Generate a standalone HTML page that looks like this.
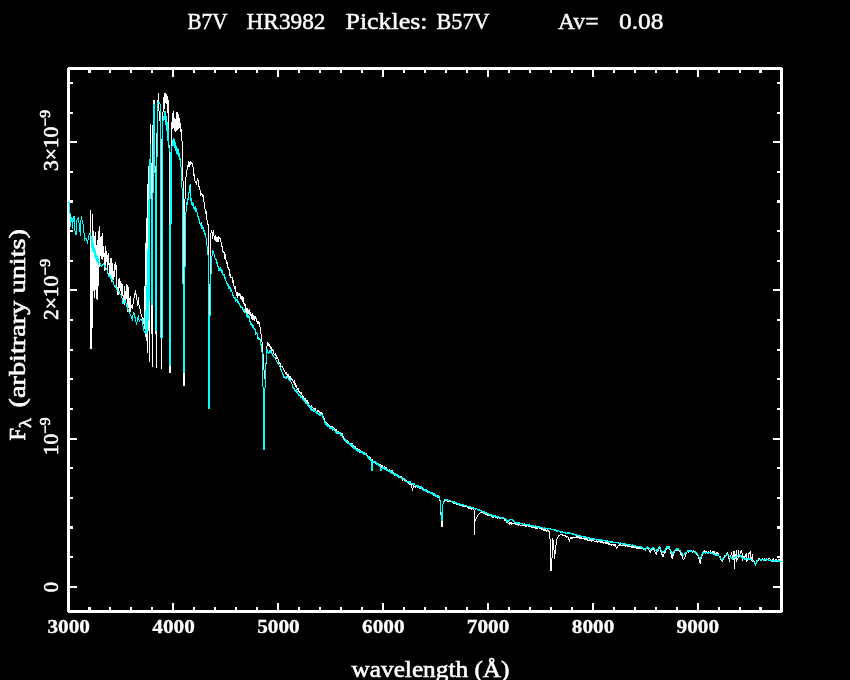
<!DOCTYPE html>
<html><head><meta charset="utf-8"><title>B7V HR3982 Pickles: B57V</title>
<style>
html,body{margin:0;padding:0;background:#000;}
body{width:850px;height:680px;overflow:hidden;font-family:"Liberation Serif",serif;}
svg{display:block;}
</style></head><body>
<svg width="850" height="680" viewBox="0 0 850 680">
<rect width="850" height="680" fill="#000"/>
<g shape-rendering="crispEdges">
<rect x="68.5" y="68.5" width="713" height="543" fill="none" stroke="#fff" stroke-width="3"/>
<g fill="#fff"><rect x="88" y="607" width="3" height="3"/><rect x="88" y="70" width="3" height="3"/><rect x="109" y="607" width="2" height="3"/><rect x="109" y="70" width="2" height="3"/><rect x="130" y="607" width="2" height="3"/><rect x="130" y="70" width="2" height="3"/><rect x="151" y="607" width="2" height="3"/><rect x="151" y="70" width="2" height="3"/><rect x="172" y="603" width="2" height="7"/><rect x="172" y="70" width="2" height="7"/><rect x="193" y="607" width="2" height="3"/><rect x="193" y="70" width="2" height="3"/><rect x="214" y="607" width="2" height="3"/><rect x="214" y="70" width="2" height="3"/><rect x="235" y="607" width="2" height="3"/><rect x="235" y="70" width="2" height="3"/><rect x="256" y="607" width="2" height="3"/><rect x="256" y="70" width="2" height="3"/><rect x="277" y="603" width="2" height="7"/><rect x="277" y="70" width="2" height="7"/><rect x="298" y="607" width="2" height="3"/><rect x="298" y="70" width="2" height="3"/><rect x="319" y="607" width="2" height="3"/><rect x="319" y="70" width="2" height="3"/><rect x="340" y="607" width="2" height="3"/><rect x="340" y="70" width="2" height="3"/><rect x="361" y="607" width="2" height="3"/><rect x="361" y="70" width="2" height="3"/><rect x="382" y="603" width="2" height="7"/><rect x="382" y="70" width="2" height="7"/><rect x="403" y="607" width="2" height="3"/><rect x="403" y="70" width="2" height="3"/><rect x="424" y="607" width="2" height="3"/><rect x="424" y="70" width="2" height="3"/><rect x="445" y="607" width="2" height="3"/><rect x="445" y="70" width="2" height="3"/><rect x="466" y="607" width="2" height="3"/><rect x="466" y="70" width="2" height="3"/><rect x="487" y="603" width="2" height="7"/><rect x="487" y="70" width="2" height="7"/><rect x="508" y="607" width="2" height="3"/><rect x="508" y="70" width="2" height="3"/><rect x="529" y="607" width="2" height="3"/><rect x="529" y="70" width="2" height="3"/><rect x="550" y="607" width="2" height="3"/><rect x="550" y="70" width="2" height="3"/><rect x="571" y="607" width="2" height="3"/><rect x="571" y="70" width="2" height="3"/><rect x="592" y="603" width="2" height="7"/><rect x="592" y="70" width="2" height="7"/><rect x="613" y="607" width="2" height="3"/><rect x="613" y="70" width="2" height="3"/><rect x="634" y="607" width="2" height="3"/><rect x="634" y="70" width="2" height="3"/><rect x="655" y="607" width="2" height="3"/><rect x="655" y="70" width="2" height="3"/><rect x="676" y="607" width="2" height="3"/><rect x="676" y="70" width="2" height="3"/><rect x="697" y="603" width="2" height="7"/><rect x="697" y="70" width="2" height="7"/><rect x="718" y="607" width="2" height="3"/><rect x="718" y="70" width="2" height="3"/><rect x="739" y="607" width="2" height="3"/><rect x="739" y="70" width="2" height="3"/><rect x="759" y="607" width="3" height="3"/><rect x="759" y="70" width="3" height="3"/><rect x="70" y="586" width="7" height="2"/><rect x="773" y="586" width="7" height="2"/><rect x="70" y="556" width="3" height="2"/><rect x="777" y="556" width="3" height="2"/><rect x="70" y="526" width="3" height="3"/><rect x="777" y="526" width="3" height="3"/><rect x="70" y="497" width="3" height="2"/><rect x="777" y="497" width="3" height="2"/><rect x="70" y="467" width="3" height="2"/><rect x="777" y="467" width="3" height="2"/><rect x="70" y="438" width="7" height="2"/><rect x="773" y="438" width="7" height="2"/><rect x="70" y="408" width="3" height="2"/><rect x="777" y="408" width="3" height="2"/><rect x="70" y="378" width="3" height="2"/><rect x="777" y="378" width="3" height="2"/><rect x="70" y="349" width="3" height="2"/><rect x="777" y="349" width="3" height="2"/><rect x="70" y="319" width="3" height="2"/><rect x="777" y="319" width="3" height="2"/><rect x="70" y="289" width="7" height="2"/><rect x="773" y="289" width="7" height="2"/><rect x="70" y="260" width="3" height="2"/><rect x="777" y="260" width="3" height="2"/><rect x="70" y="230" width="3" height="2"/><rect x="777" y="230" width="3" height="2"/><rect x="70" y="200" width="3" height="3"/><rect x="777" y="200" width="3" height="3"/><rect x="70" y="171" width="3" height="2"/><rect x="777" y="171" width="3" height="2"/><rect x="70" y="141" width="7" height="2"/><rect x="773" y="141" width="7" height="2"/><rect x="70" y="112" width="3" height="2"/><rect x="777" y="112" width="3" height="2"/><rect x="70" y="82" width="3" height="2"/><rect x="777" y="82" width="3" height="2"/></g>
<path fill="#000" d="M67 67h1v1h-1zM782 67h1v1h-1zM67 612h1v1h-1zM782 612h1v1h-1z"/>
<path fill="#fff" d="M90 210h1v139h-1zM91 240h1v109h-1zM92 214h1v114h-1zM93 231h1v60h-1zM94 236h1v62h-1zM95 232h1v58h-1zM96 245h1v54h-1zM97 240h1v60h-1zM98 231h1v55h-1zM99 226h1v41h-1zM100 237h1v19h-1zM101 236h1v23h-1zM102 233h1v27h-1zM103 246h1v11h-1zM104 253h1v18h-1zM105 246h1v24h-1zM106 251h1v11h-1zM107 255h1v19h-1zM108 253h1v12h-1zM109 263h1v14h-1zM110 258h1v21h-1zM111 258h1v24h-1zM112 263h1v18h-1zM113 271h1v9h-1zM114 264h1v13h-1zM115 262h1v8h-1zM116 265h1v22h-1zM117 287h1v8h-1zM118 279h1v16h-1zM119 278h1v10h-1zM120 281h1v10h-1zM121 283h1v15h-1zM122 284h1v12h-1zM123 295h1v7h-1zM124 286h1v19h-1zM125 291h1v12h-1zM126 284h1v15h-1zM127 285h1v27h-1zM128 287h1v21h-1zM129 298h1v14h-1zM130 296h1v16h-1zM131 305h1v3h-1zM132 304h1v5h-1zM133 298h1v6h-1zM134 293h1v5h-1zM135 290h1v5h-1zM136 294h1v6h-1zM137 300h1v6h-1zM138 297h1v8h-1zM139 305h1v4h-1zM140 309h1v5h-1zM141 314h1v3h-1zM142 317h1v2h-1zM143 318h1v6h-1zM144 286h1v43h-1zM145 243h1v94h-1zM146 218h1v123h-1zM147 184h1v169h-1zM148 166h1v165h-1zM149 162h1v200h-1zM150 124h1v39h-1zM151 163h1v171h-1zM152 125h1v242h-1zM153 100h1v25h-1zM154 100h1v66h-1zM155 166h1v168h-1zM156 133h1v235h-1zM157 100h1v33h-1zM158 93h1v18h-1zM159 111h1v10h-1zM160 119h1v216h-1zM161 139h1v230h-1zM162 112h1v27h-1zM163 97h1v15h-1zM164 93h1v16h-1zM165 93h1v10h-1zM166 94h1v10h-1zM167 96h1v17h-1zM168 100h1v45h-1zM169 145h1v228h-1zM170 166h1v207h-1zM171 122h1v44h-1zM172 113h1v16h-1zM173 111h1v17h-1zM174 118h1v13h-1zM175 119h1v13h-1zM176 112h1v19h-1zM177 112h1v18h-1zM178 114h1v15h-1zM179 118h1v10h-1zM180 123h1v9h-1zM181 129h1v12h-1zM182 141h1v40h-1zM183 181h1v205h-1zM184 199h1v187h-1zM185 177h1v22h-1zM186 170h1v7h-1zM187 165h1v5h-1zM188 161h1v6h-1zM189 162h1v5h-1zM190 161h1v4h-1zM191 162h1v2h-1zM192 163h1v4h-1zM193 167h1v9h-1zM194 174h1v7h-1zM195 181h1v2h-1zM196 181h1v4h-1zM197 178h1v3h-1zM198 180h1v7h-1zM199 186h1v4h-1zM200 190h1v6h-1zM201 193h1v2h-1zM202 194h1v3h-1zM203 195h1v7h-1zM204 202h1v7h-1zM205 209h1v5h-1zM206 211h1v9h-1zM207 220h1v5h-1zM208 224h1v73h-1zM209 284h1v31h-1zM210 233h1v51h-1zM211 230h1v3h-1zM212 232h1v7h-1zM213 230h1v6h-1zM214 236h1v4h-1zM215 235h1v6h-1zM216 237h1v5h-1zM217 237h1v5h-1zM218 236h1v6h-1zM219 237h1v2h-1zM220 238h1v4h-1zM221 242h1v5h-1zM222 246h1v6h-1zM223 251h1v2h-1zM224 252h1v7h-1zM225 254h1v6h-1zM226 260h1v4h-1zM227 262h1v6h-1zM228 267h1v3h-1zM229 269h1v7h-1zM230 274h1v4h-1zM231 277h1v1h-1zM232 277h1v6h-1zM233 280h1v6h-1zM234 286h1v3h-1zM235 286h1v6h-1zM236 292h1v4h-1zM237 292h1v6h-1zM238 293h1v3h-1zM239 293h1v3h-1zM240 294h1v5h-1zM241 296h1v4h-1zM242 296h1v6h-1zM243 297h1v7h-1zM244 303h1v3h-1zM245 304h1v8h-1zM246 308h1v5h-1zM247 308h1v6h-1zM248 310h1v4h-1zM249 309h1v6h-1zM250 312h1v4h-1zM251 314h1v5h-1zM252 313h1v7h-1zM253 315h1v5h-1zM254 316h1v5h-1zM255 316h1v3h-1zM256 318h1v4h-1zM257 321h1v3h-1zM258 321h1v3h-1zM259 322h1v5h-1zM260 327h1v7h-1zM261 334h1v8h-1zM262 342h1v12h-1zM263 354h1v16h-1zM264 370h1v9h-1zM265 364h1v15h-1zM266 346h1v18h-1zM267 342h1v4h-1zM268 343h1v3h-1zM269 344h1v3h-1zM270 346h1v3h-1zM271 347h1v4h-1zM272 349h1v2h-1zM273 350h1v4h-1zM274 354h1v1h-1zM275 353h1v3h-1zM276 355h1v4h-1zM277 357h1v2h-1zM278 359h1v4h-1zM279 362h1v2h-1zM280 363h1v4h-1zM281 366h1v1h-1zM282 366h1v2h-1zM283 368h1v2h-1zM284 370h1v2h-1zM285 372h1v2h-1zM286 372h1v3h-1zM287 374h1v3h-1zM288 374h1v4h-1zM289 376h1v3h-1zM290 376h1v3h-1zM291 378h1v2h-1zM292 379h1v2h-1zM293 381h1v2h-1zM294 380h1v5h-1zM295 383h1v4h-1zM296 385h1v3h-1zM297 388h1v2h-1zM298 388h1v4h-1zM299 391h1v2h-1zM300 392h1v2h-1zM301 392h1v3h-1zM302 395h1v2h-1zM303 396h1v4h-1zM304 398h1v3h-1zM305 398h1v4h-1zM306 400h1v3h-1zM307 400h1v4h-1zM308 402h1v3h-1zM309 405h1v2h-1zM310 406h1v2h-1zM311 405h1v4h-1zM312 407h1v1h-1zM313 408h1v1h-1zM314 408h1v1h-1zM315 408h1v3h-1zM316 411h1v1h-1zM317 410h1v2h-1zM318 410h1v2h-1zM319 411h1v3h-1zM320 412h1v2h-1zM321 412h1v2h-1zM322 413h1v3h-1zM323 416h1v4h-1zM324 418h1v4h-1zM325 422h1v2h-1zM326 422h1v3h-1zM327 423h1v3h-1zM328 424h1v2h-1zM329 425h1v2h-1zM330 426h1v2h-1zM331 426h1v3h-1zM332 426h1v2h-1zM333 427h1v3h-1zM334 428h1v3h-1zM335 429h1v3h-1zM336 429h1v3h-1zM337 431h1v2h-1zM338 431h1v3h-1zM339 432h1v2h-1zM340 432h1v2h-1zM341 433h1v3h-1zM342 433h1v4h-1zM343 436h1v4h-1zM344 438h1v3h-1zM345 439h1v2h-1zM346 440h1v3h-1zM347 440h1v2h-1zM348 441h1v3h-1zM349 443h1v2h-1zM350 443h1v2h-1zM351 443h1v4h-1zM352 443h1v4h-1zM353 445h1v3h-1zM354 446h1v2h-1zM355 446h1v3h-1zM356 448h1v2h-1zM357 448h1v4h-1zM358 449h1v3h-1zM359 449h1v4h-1zM360 450h1v2h-1zM361 451h1v2h-1zM362 451h1v2h-1zM363 452h1v3h-1zM364 452h1v3h-1zM365 453h1v2h-1zM366 453h1v3h-1zM367 455h1v2h-1zM368 456h1v3h-1zM369 457h1v3h-1zM370 457h1v3h-1zM371 459h1v2h-1zM372 459h1v2h-1zM373 461h1v1h-1zM374 462h1v1h-1zM375 461h1v3h-1zM376 462h1v3h-1zM377 464h1v1h-1zM378 463h1v3h-1zM379 464h1v3h-1zM380 464h1v2h-1zM381 465h1v3h-1zM382 465h1v3h-1zM383 467h1v2h-1zM384 466h1v3h-1zM385 467h1v3h-1zM386 467h1v4h-1zM387 469h1v2h-1zM388 470h1v1h-1zM389 469h1v2h-1zM390 470h1v3h-1zM391 470h1v2h-1zM392 470h1v4h-1zM393 472h1v2h-1zM394 473h1v3h-1zM395 473h1v2h-1zM396 474h1v2h-1zM397 475h1v2h-1zM398 476h1v2h-1zM399 476h1v2h-1zM400 476h1v2h-1zM401 476h1v3h-1zM402 477h1v4h-1zM403 478h1v2h-1zM404 478h1v3h-1zM405 480h1v2h-1zM406 480h1v2h-1zM407 482h1v1h-1zM408 482h1v2h-1zM409 481h1v4h-1zM410 481h1v4h-1zM411 484h1v4h-1zM412 488h1v3h-1zM413 485h1v3h-1zM414 486h1v1h-1zM415 485h1v3h-1zM416 485h1v2h-1zM417 486h1v2h-1zM418 486h1v2h-1zM419 487h1v2h-1zM420 488h1v1h-1zM421 487h1v2h-1zM422 488h1v2h-1zM423 488h1v3h-1zM424 489h1v2h-1zM425 489h1v3h-1zM426 490h1v2h-1zM427 490h1v3h-1zM428 491h1v2h-1zM429 491h1v2h-1zM430 492h1v1h-1zM431 492h1v2h-1zM432 493h1v2h-1zM433 495h1v1h-1zM434 494h1v2h-1zM435 495h1v2h-1zM436 495h1v2h-1zM437 495h1v3h-1zM438 496h1v1h-1zM439 497h1v4h-1zM440 501h1v14h-1zM441 515h1v12h-1zM442 504h1v23h-1zM443 502h1v2h-1zM444 500h1v2h-1zM445 499h1v2h-1zM446 500h1v1h-1zM447 499h1v3h-1zM448 500h1v2h-1zM449 500h1v2h-1zM450 500h1v2h-1zM451 501h1v1h-1zM452 501h1v2h-1zM453 501h1v3h-1zM454 502h1v2h-1zM455 502h1v2h-1zM456 502h1v3h-1zM457 504h1v1h-1zM458 503h1v2h-1zM459 504h1v2h-1zM460 504h1v2h-1zM461 504h1v2h-1zM462 504h1v3h-1zM463 505h1v2h-1zM464 505h1v2h-1zM465 506h1v1h-1zM466 505h1v2h-1zM467 506h1v2h-1zM468 506h1v3h-1zM469 506h1v3h-1zM470 507h1v2h-1zM471 507h1v3h-1zM472 507h1v2h-1zM473 508h1v2h-1zM474 510h1v25h-1zM475 519h1v2h-1zM476 517h1v2h-1zM477 515h1v2h-1zM478 514h1v1h-1zM479 513h1v1h-1zM480 512h1v1h-1zM481 512h1v1h-1zM482 512h1v1h-1zM483 512h1v2h-1zM484 513h1v1h-1zM485 512h1v3h-1zM486 513h1v2h-1zM487 514h1v2h-1zM488 514h1v2h-1zM489 514h1v2h-1zM490 515h1v1h-1zM491 515h1v2h-1zM492 515h1v3h-1zM493 515h1v3h-1zM494 516h1v1h-1zM495 517h1v1h-1zM496 516h1v2h-1zM497 516h1v3h-1zM498 516h1v1h-1zM499 517h1v2h-1zM500 517h1v2h-1zM501 517h1v2h-1zM502 517h1v2h-1zM503 517h1v2h-1zM504 519h1v2h-1zM505 520h1v1h-1zM506 521h1v2h-1zM507 522h1v1h-1zM508 523h1v1h-1zM509 522h1v3h-1zM510 522h1v2h-1zM511 522h1v3h-1zM512 523h1v1h-1zM513 523h1v1h-1zM514 523h1v1h-1zM515 523h1v2h-1zM516 523h1v2h-1zM517 524h1v1h-1zM518 524h1v2h-1zM519 524h1v1h-1zM520 525h1v1h-1zM521 525h1v1h-1zM522 524h1v2h-1zM523 525h1v1h-1zM524 525h1v1h-1zM525 525h1v2h-1zM526 524h1v3h-1zM527 525h1v1h-1zM528 525h1v2h-1zM529 525h1v2h-1zM530 525h1v2h-1zM531 525h1v3h-1zM532 526h1v2h-1zM533 526h1v2h-1zM534 527h1v1h-1zM535 526h1v3h-1zM536 527h1v2h-1zM537 527h1v2h-1zM538 527h1v1h-1zM539 527h1v2h-1zM540 528h1v1h-1zM541 528h1v2h-1zM542 528h1v2h-1zM543 528h1v3h-1zM544 529h1v2h-1zM545 529h1v2h-1zM546 530h1v2h-1zM547 530h1v1h-1zM548 530h1v2h-1zM549 531h1v8h-1zM550 539h1v32h-1zM551 558h1v13h-1zM552 538h1v20h-1zM553 540h1v10h-1zM554 550h1v9h-1zM555 545h1v9h-1zM556 539h1v6h-1zM557 537h1v2h-1zM558 535h1v2h-1zM559 535h1v1h-1zM560 534h1v1h-1zM561 534h1v1h-1zM562 534h1v2h-1zM563 535h1v1h-1zM564 535h1v1h-1zM565 535h1v2h-1zM566 536h1v2h-1zM567 536h1v1h-1zM568 537h1v3h-1zM569 539h1v3h-1zM570 537h1v2h-1zM571 537h1v2h-1zM572 537h1v2h-1zM573 537h1v1h-1zM574 537h1v1h-1zM575 537h1v1h-1zM576 536h1v2h-1zM577 536h1v2h-1zM578 536h1v2h-1zM579 537h1v2h-1zM580 537h1v2h-1zM581 537h1v2h-1zM582 538h1v1h-1zM583 538h1v1h-1zM584 538h1v2h-1zM585 538h1v2h-1zM586 538h1v2h-1zM587 539h1v2h-1zM588 540h1v1h-1zM589 539h1v2h-1zM590 539h1v2h-1zM591 540h1v2h-1zM592 539h1v2h-1zM593 540h1v1h-1zM594 541h1v1h-1zM595 541h1v1h-1zM596 540h1v2h-1zM597 541h1v2h-1zM598 541h1v1h-1zM599 541h1v1h-1zM600 541h1v2h-1zM601 541h1v2h-1zM602 541h1v2h-1zM603 542h1v2h-1zM604 542h1v1h-1zM605 542h1v2h-1zM606 542h1v2h-1zM607 542h1v2h-1zM608 543h1v2h-1zM609 543h1v2h-1zM610 544h1v1h-1zM611 544h1v2h-1zM612 544h1v1h-1zM613 544h1v2h-1zM614 544h1v2h-1zM615 544h1v3h-1zM616 547h1v2h-1zM617 546h1v2h-1zM618 545h1v1h-1zM619 544h1v2h-1zM620 544h1v2h-1zM621 545h1v1h-1zM622 545h1v1h-1zM623 545h1v1h-1zM624 545h1v1h-1zM625 545h1v2h-1zM626 545h1v1h-1zM627 545h1v2h-1zM628 545h1v2h-1zM629 546h1v1h-1zM630 546h1v1h-1zM631 546h1v2h-1zM632 546h1v2h-1zM633 546h1v2h-1zM634 546h1v2h-1zM635 547h1v1h-1zM636 547h1v2h-1zM637 547h1v2h-1zM638 547h1v2h-1zM639 547h1v2h-1zM640 548h1v1h-1zM641 548h1v1h-1zM642 548h1v1h-1zM643 548h1v2h-1zM644 548h1v2h-1zM645 549h1v2h-1zM646 547h1v2h-1zM647 546h1v3h-1zM648 547h1v3h-1zM649 550h1v2h-1zM650 551h1v2h-1zM651 549h1v2h-1zM652 547h1v3h-1zM653 548h1v2h-1zM654 550h1v2h-1zM655 552h1v2h-1zM656 552h1v3h-1zM657 550h1v2h-1zM658 548h1v3h-1zM659 547h1v2h-1zM660 549h1v3h-1zM661 551h1v4h-1zM662 554h1v3h-1zM663 554h1v3h-1zM664 552h1v2h-1zM665 550h1v3h-1zM666 547h1v3h-1zM667 547h1v2h-1zM668 547h1v2h-1zM669 547h1v3h-1zM670 549h1v5h-1zM671 554h1v4h-1zM672 555h1v4h-1zM673 553h1v3h-1zM674 550h1v3h-1zM675 549h1v2h-1zM676 549h1v2h-1zM677 549h1v2h-1zM678 549h1v2h-1zM679 550h1v2h-1zM680 552h1v3h-1zM681 554h1v2h-1zM682 556h1v3h-1zM683 559h1v1h-1zM684 557h1v2h-1zM685 554h1v3h-1zM686 552h1v2h-1zM687 551h1v1h-1zM688 551h1v2h-1zM689 551h1v1h-1zM690 550h1v1h-1zM691 551h1v1h-1zM692 551h1v2h-1zM693 550h1v2h-1zM694 551h1v2h-1zM695 551h1v3h-1zM696 553h1v2h-1zM697 553h1v3h-1zM698 556h1v3h-1zM699 559h1v4h-1zM700 559h1v5h-1zM701 556h1v3h-1zM702 552h1v4h-1zM703 551h1v3h-1zM704 550h1v3h-1zM705 551h1v1h-1zM706 551h1v1h-1zM707 552h1v1h-1zM708 551h1v2h-1zM709 552h1v1h-1zM710 550h1v2h-1zM711 552h1v1h-1zM712 551h1v2h-1zM713 551h1v2h-1zM714 551h1v3h-1zM715 553h1v1h-1zM716 552h1v3h-1zM717 552h1v2h-1zM718 553h1v3h-1zM719 556h1v1h-1zM720 556h1v4h-1zM721 560h1v1h-1zM722 559h1v3h-1zM723 558h1v2h-1zM724 555h1v3h-1zM725 555h1v1h-1zM726 553h1v3h-1zM727 552h1v2h-1zM728 554h1v5h-1zM729 558h1v4h-1zM730 555h1v3h-1zM731 552h1v3h-1zM732 555h1v5h-1zM733 551h1v9h-1zM734 551h1v18h-1zM735 554h1v5h-1zM736 550h1v12h-1zM737 558h1v2h-1zM738 550h1v8h-1zM739 554h1v3h-1zM740 551h1v3h-1zM741 550h1v3h-1zM742 553h1v8h-1zM743 556h1v2h-1zM744 556h1v3h-1zM745 554h1v3h-1zM746 553h1v9h-1zM747 559h1v2h-1zM748 553h1v6h-1zM749 552h1v2h-1zM750 551h1v9h-1zM751 557h1v4h-1zM752 554h1v8h-1zM753 560h1v2h-1zM754 561h1v3h-1zM755 564h1v2h-1zM756 560h1v4h-1zM757 560h1v1h-1zM758 558h1v3h-1zM759 558h1v1h-1zM760 559h1v1h-1zM761 559h1v2h-1zM762 558h1v2h-1zM763 559h1v2h-1zM764 558h1v3h-1zM765 559h1v2h-1zM766 558h1v3h-1zM767 559h1v1h-1zM768 558h1v3h-1zM769 558h1v1h-1zM770 559h1v2h-1zM771 561h1v1h-1zM772 559h1v3h-1zM773 558h1v2h-1zM774 560h1v1h-1zM775 559h1v1h-1zM776 559h1v3h-1zM777 560h1v1h-1zM778 559h1v3h-1zM779 559h1v2h-1zM780 559h1v3h-1z"/>
<path fill="#0ff" d="M68 202h1v1h-1zM69 202h1v12h-1zM70 213h1v14h-1zM71 217h1v5h-1zM72 218h1v11h-1zM73 216h1v6h-1zM74 216h1v15h-1zM75 231h1v4h-1zM76 220h1v15h-1zM77 218h1v2h-1zM78 217h1v6h-1zM79 223h1v9h-1zM80 220h1v16h-1zM81 216h1v4h-1zM82 220h1v4h-1zM83 224h1v9h-1zM84 233h1v8h-1zM85 238h1v1h-1zM86 238h1v3h-1zM87 240h1v4h-1zM88 235h1v5h-1zM89 233h1v2h-1zM90 232h1v4h-1zM91 236h1v12h-1zM92 237h1v14h-1zM93 243h1v10h-1zM94 247h1v10h-1zM95 250h1v9h-1zM96 254h1v8h-1zM97 256h1v7h-1zM98 258h1v7h-1zM99 262h1v1h-1zM100 263h1v3h-1zM101 265h1v2h-1zM102 264h1v2h-1zM103 263h1v2h-1zM104 265h1v2h-1zM105 265h1v3h-1zM106 268h1v2h-1zM107 270h1v4h-1zM108 273h1v4h-1zM109 275h1v2h-1zM110 275h1v4h-1zM111 277h1v3h-1zM112 279h1v3h-1zM113 281h1v4h-1zM114 285h1v2h-1zM115 285h1v3h-1zM116 287h1v3h-1zM117 289h1v2h-1zM118 291h1v1h-1zM119 291h1v3h-1zM120 294h1v1h-1zM121 295h1v3h-1zM122 298h1v6h-1zM123 302h1v2h-1zM124 300h1v3h-1zM125 300h1v3h-1zM126 303h1v4h-1zM127 305h1v5h-1zM128 309h1v3h-1zM129 312h1v2h-1zM130 314h1v2h-1zM131 316h1v3h-1zM132 315h1v6h-1zM133 312h1v3h-1zM134 313h1v5h-1zM135 317h1v5h-1zM136 322h1v3h-1zM137 317h1v5h-1zM138 315h1v5h-1zM139 320h1v2h-1zM140 319h1v1h-1zM141 319h1v2h-1zM142 319h1v7h-1zM143 326h1v5h-1zM144 331h1v2h-1zM145 310h1v24h-1zM146 285h1v49h-1zM147 250h1v81h-1zM148 200h1v121h-1zM149 159h1v142h-1zM150 143h1v56h-1zM151 199h1v106h-1zM152 193h1v112h-1zM153 104h1v89h-1zM154 104h1v69h-1zM155 172h1v159h-1zM156 157h1v174h-1zM157 102h1v55h-1zM158 102h1v1h-1zM159 102h1v2h-1zM160 104h1v234h-1zM161 337h1v1h-1zM162 120h1v218h-1zM163 116h1v5h-1zM164 111h1v9h-1zM165 111h1v14h-1zM166 116h1v15h-1zM167 122h1v19h-1zM168 129h1v19h-1zM169 148h1v4h-1zM169 225h1v141h-1zM170 152h1v214h-1zM171 146h1v78h-1zM172 140h1v6h-1zM173 138h1v8h-1zM174 139h1v9h-1zM175 142h1v9h-1zM176 146h1v8h-1zM177 148h1v7h-1zM178 149h1v8h-1zM179 153h1v7h-1zM180 158h1v9h-1zM181 167h1v21h-1zM182 188h1v96h-1zM183 284h1v89h-1zM184 266h1v107h-1zM185 212h1v55h-1zM186 202h1v10h-1zM187 198h1v7h-1zM188 192h1v8h-1zM189 185h1v8h-1zM190 184h1v17h-1zM191 198h1v7h-1zM192 202h1v4h-1zM193 203h1v6h-1zM194 207h1v3h-1zM195 206h1v6h-1zM196 208h1v4h-1zM197 212h1v5h-1zM198 216h1v4h-1zM199 219h1v5h-1zM200 223h1v3h-1zM201 222h1v7h-1zM202 225h1v4h-1zM203 227h1v5h-1zM204 230h1v5h-1zM205 233h1v5h-1zM206 238h1v8h-1zM207 246h1v9h-1zM208 255h1v154h-1zM209 315h1v94h-1zM210 274h1v42h-1zM211 256h1v18h-1zM212 250h1v6h-1zM213 251h1v3h-1zM214 254h1v4h-1zM215 258h1v2h-1zM216 259h1v5h-1zM217 262h1v5h-1zM218 266h1v5h-1zM219 268h1v3h-1zM220 267h1v4h-1zM221 269h1v4h-1zM222 270h1v5h-1zM223 274h1v2h-1zM224 274h1v5h-1zM225 277h1v4h-1zM226 281h1v3h-1zM227 283h1v3h-1zM228 284h1v5h-1zM229 286h1v3h-1zM230 287h1v5h-1zM231 289h1v3h-1zM232 292h1v4h-1zM233 295h1v3h-1zM234 297h1v2h-1zM235 297h1v5h-1zM236 299h1v2h-1zM237 299h1v4h-1zM238 301h1v3h-1zM239 303h1v3h-1zM240 305h1v3h-1zM241 306h1v2h-1zM242 307h1v3h-1zM243 309h1v3h-1zM244 309h1v4h-1zM245 312h1v1h-1zM246 313h1v4h-1zM247 314h1v4h-1zM248 315h1v3h-1zM249 316h1v6h-1zM250 321h1v4h-1zM251 323h1v3h-1zM252 324h1v4h-1zM253 325h1v4h-1zM254 328h1v2h-1zM255 329h1v6h-1zM256 332h1v2h-1zM257 333h1v6h-1zM258 337h1v3h-1zM259 338h1v2h-1zM260 339h1v6h-1zM261 344h1v8h-1zM262 352h1v35h-1zM263 387h1v63h-1zM264 388h1v62h-1zM265 363h1v25h-1zM266 349h1v14h-1zM267 349h1v4h-1zM268 352h1v2h-1zM269 350h1v3h-1zM270 350h1v3h-1zM271 351h1v3h-1zM272 353h1v3h-1zM273 355h1v2h-1zM274 357h1v1h-1zM275 357h1v3h-1zM276 360h1v2h-1zM277 362h1v2h-1zM278 362h1v3h-1zM279 365h1v2h-1zM280 367h1v3h-1zM281 369h1v3h-1zM282 372h1v3h-1zM283 374h1v4h-1zM284 376h1v2h-1zM285 377h1v2h-1zM286 376h1v3h-1zM287 377h1v1h-1zM288 377h1v3h-1zM289 379h1v2h-1zM290 379h1v3h-1zM291 382h1v2h-1zM292 384h1v4h-1zM293 387h1v2h-1zM294 388h1v3h-1zM295 390h1v2h-1zM296 389h1v4h-1zM297 391h1v3h-1zM298 393h1v3h-1zM299 394h1v2h-1zM300 395h1v3h-1zM301 396h1v2h-1zM302 397h1v3h-1zM303 398h1v3h-1zM304 399h1v3h-1zM305 401h1v3h-1zM306 402h1v2h-1zM307 403h1v3h-1zM308 404h1v3h-1zM309 406h1v2h-1zM310 407h1v3h-1zM311 407h1v4h-1zM312 409h1v2h-1zM313 409h1v3h-1zM314 409h1v3h-1zM315 412h1v1h-1zM316 411h1v3h-1zM317 412h1v2h-1zM318 413h1v2h-1zM319 413h1v3h-1zM320 414h1v2h-1zM321 414h1v1h-1zM322 414h1v4h-1zM323 417h1v3h-1zM324 420h1v3h-1zM325 421h1v4h-1zM326 423h1v3h-1zM327 424h1v3h-1zM328 425h1v2h-1zM329 426h1v3h-1zM330 427h1v2h-1zM331 427h1v2h-1zM332 427h1v4h-1zM333 428h1v2h-1zM334 429h1v2h-1zM335 431h1v2h-1zM336 431h1v3h-1zM337 431h1v3h-1zM338 432h1v1h-1zM339 432h1v2h-1zM340 432h1v4h-1zM341 434h1v2h-1zM342 434h1v4h-1zM343 438h1v2h-1zM344 439h1v2h-1zM345 440h1v2h-1zM346 440h1v2h-1zM347 441h1v3h-1zM348 442h1v2h-1zM349 443h1v2h-1zM350 443h1v3h-1zM351 444h1v2h-1zM352 444h1v4h-1zM353 446h1v3h-1zM354 447h1v2h-1zM355 448h1v2h-1zM356 449h1v2h-1zM357 449h1v3h-1zM358 450h1v2h-1zM359 450h1v2h-1zM360 451h1v2h-1zM361 451h1v2h-1zM362 451h1v3h-1zM363 452h1v3h-1zM364 453h1v2h-1zM365 453h1v2h-1zM366 454h1v2h-1zM367 456h1v2h-1zM368 456h1v3h-1zM369 456h1v3h-1zM370 459h1v2h-1zM371 459h1v12h-1zM372 461h1v10h-1zM373 461h1v2h-1zM374 461h1v2h-1zM375 461h1v2h-1zM376 462h1v3h-1zM377 463h1v2h-1zM378 463h1v3h-1zM379 465h1v2h-1zM380 465h1v6h-1zM381 469h1v2h-1zM382 467h1v2h-1zM383 467h1v2h-1zM384 467h1v3h-1zM385 469h1v1h-1zM386 468h1v3h-1zM387 469h1v2h-1zM388 470h1v2h-1zM389 470h1v2h-1zM390 470h1v2h-1zM391 471h1v3h-1zM392 471h1v3h-1zM393 473h1v2h-1zM394 473h1v2h-1zM395 473h1v3h-1zM396 474h1v2h-1zM397 474h1v3h-1zM398 475h1v3h-1zM399 476h1v2h-1zM400 477h1v1h-1zM401 477h1v2h-1zM402 477h1v2h-1zM403 478h1v2h-1zM404 478h1v2h-1zM405 479h1v3h-1zM406 481h1v1h-1zM407 481h1v1h-1zM408 481h1v1h-1zM409 481h1v3h-1zM410 481h1v3h-1zM411 483h1v1h-1zM412 483h1v2h-1zM413 483h1v2h-1zM414 483h1v2h-1zM415 485h1v1h-1zM416 485h1v2h-1zM417 485h1v2h-1zM418 485h1v3h-1zM419 486h1v2h-1zM420 486h1v2h-1zM421 486h1v3h-1zM422 487h1v2h-1zM423 488h1v3h-1zM424 489h1v2h-1zM425 489h1v3h-1zM426 489h1v3h-1zM427 490h1v2h-1zM428 491h1v2h-1zM429 491h1v2h-1zM430 492h1v2h-1zM431 492h1v2h-1zM432 492h1v3h-1zM433 493h1v2h-1zM434 493h1v3h-1zM435 494h1v3h-1zM436 495h1v2h-1zM437 496h1v1h-1zM438 495h1v3h-1zM439 496h1v4h-1zM440 500h1v12h-1zM441 512h1v9h-1zM442 504h1v17h-1zM443 501h1v3h-1zM444 499h1v2h-1zM445 499h1v1h-1zM446 499h1v1h-1zM447 499h1v2h-1zM448 500h1v1h-1zM449 500h1v1h-1zM450 500h1v1h-1zM451 501h1v1h-1zM452 501h1v1h-1zM453 501h1v2h-1zM454 501h1v2h-1zM455 502h1v2h-1zM456 502h1v2h-1zM457 503h1v1h-1zM458 503h1v2h-1zM459 503h1v2h-1zM460 504h1v1h-1zM461 504h1v1h-1zM462 504h1v2h-1zM463 504h1v2h-1zM464 505h1v1h-1zM465 505h1v1h-1zM466 505h1v2h-1zM467 506h1v1h-1zM468 506h1v1h-1zM469 506h1v2h-1zM470 506h1v2h-1zM471 507h1v1h-1zM472 507h1v1h-1zM473 507h1v2h-1zM474 508h1v1h-1zM475 508h1v2h-1zM476 508h1v1h-1zM477 509h1v1h-1zM478 509h1v2h-1zM479 509h1v2h-1zM480 510h1v1h-1zM481 510h1v2h-1zM482 511h1v1h-1zM483 511h1v2h-1zM484 511h1v2h-1zM485 512h1v2h-1zM486 512h1v2h-1zM487 513h1v1h-1zM488 513h1v2h-1zM489 514h1v1h-1zM490 514h1v2h-1zM491 514h1v2h-1zM492 515h1v2h-1zM493 515h1v2h-1zM494 515h1v2h-1zM495 515h1v2h-1zM496 516h1v1h-1zM497 516h1v2h-1zM498 516h1v2h-1zM499 517h1v1h-1zM500 517h1v1h-1zM501 517h1v2h-1zM502 517h1v2h-1zM503 517h1v1h-1zM504 518h1v1h-1zM505 518h1v2h-1zM506 519h1v3h-1zM507 520h1v2h-1zM508 520h1v2h-1zM509 519h1v2h-1zM510 519h1v1h-1zM511 519h1v1h-1zM512 519h1v2h-1zM513 520h1v2h-1zM514 521h1v2h-1zM515 522h1v1h-1zM516 522h1v2h-1zM517 522h1v2h-1zM518 522h1v2h-1zM519 522h1v2h-1zM520 523h1v1h-1zM521 523h1v1h-1zM522 523h1v2h-1zM523 524h1v1h-1zM524 523h1v2h-1zM525 524h1v1h-1zM526 524h1v1h-1zM527 524h1v2h-1zM528 524h1v2h-1zM529 524h1v2h-1zM530 525h1v1h-1zM531 525h1v2h-1zM532 525h1v2h-1zM533 525h1v2h-1zM534 526h1v1h-1zM535 525h1v2h-1zM536 526h1v1h-1zM537 526h1v2h-1zM538 526h1v2h-1zM539 526h1v2h-1zM540 527h1v1h-1zM541 527h1v1h-1zM542 527h1v2h-1zM543 528h1v1h-1zM544 527h1v2h-1zM545 528h1v1h-1zM546 528h1v1h-1zM547 528h1v2h-1zM548 528h1v1h-1zM549 528h1v1h-1zM550 528h1v2h-1zM551 529h1v1h-1zM552 529h1v1h-1zM553 529h1v1h-1zM554 529h1v2h-1zM555 529h1v2h-1zM556 530h1v2h-1zM557 530h1v2h-1zM558 530h1v1h-1zM559 531h1v1h-1zM560 531h1v2h-1zM561 531h1v2h-1zM562 531h1v2h-1zM563 532h1v1h-1zM564 532h1v1h-1zM565 532h1v2h-1zM566 533h1v1h-1zM567 532h1v2h-1zM568 532h1v2h-1zM569 532h1v2h-1zM570 533h1v1h-1zM571 533h1v1h-1zM572 533h1v2h-1zM573 533h1v2h-1zM574 534h1v1h-1zM575 534h1v2h-1zM576 534h1v2h-1zM577 535h1v1h-1zM578 535h1v1h-1zM579 535h1v2h-1zM580 535h1v2h-1zM581 536h1v1h-1zM582 536h1v1h-1zM583 536h1v2h-1zM584 536h1v2h-1zM585 536h1v2h-1zM586 537h1v1h-1zM587 537h1v2h-1zM588 537h1v2h-1zM589 537h1v2h-1zM590 538h1v1h-1zM591 538h1v2h-1zM592 538h1v1h-1zM593 538h1v2h-1zM594 538h1v2h-1zM595 539h1v1h-1zM596 539h1v1h-1zM597 539h1v1h-1zM598 539h1v2h-1zM599 539h1v2h-1zM600 539h1v2h-1zM601 539h1v2h-1zM602 540h1v1h-1zM603 540h1v1h-1zM604 540h1v1h-1zM605 540h1v2h-1zM606 540h1v2h-1zM607 540h1v2h-1zM608 541h1v2h-1zM609 541h1v1h-1zM610 541h1v2h-1zM611 541h1v2h-1zM612 541h1v2h-1zM613 542h1v1h-1zM614 542h1v1h-1zM615 542h1v1h-1zM616 542h1v1h-1zM617 542h1v1h-1zM618 542h1v2h-1zM619 543h1v1h-1zM620 542h1v2h-1zM621 543h1v1h-1zM622 543h1v2h-1zM623 543h1v2h-1zM624 543h1v2h-1zM625 543h1v2h-1zM626 544h1v1h-1zM627 544h1v1h-1zM628 544h1v2h-1zM629 544h1v2h-1zM630 544h1v1h-1zM631 545h1v1h-1zM632 544h1v2h-1zM633 545h1v1h-1zM634 545h1v2h-1zM635 545h1v2h-1zM636 546h1v1h-1zM637 546h1v1h-1zM638 546h1v1h-1zM639 546h1v1h-1zM640 546h1v2h-1zM641 546h1v2h-1zM642 547h1v2h-1zM643 548h1v1h-1zM644 548h1v2h-1zM645 548h1v2h-1zM646 547h1v2h-1zM647 546h1v2h-1zM648 547h1v2h-1zM649 548h1v1h-1zM650 549h1v2h-1zM651 548h1v2h-1zM652 547h1v2h-1zM653 547h1v2h-1zM654 548h1v2h-1zM655 550h1v1h-1zM656 549h1v3h-1zM657 549h1v2h-1zM658 547h1v3h-1zM659 546h1v2h-1zM660 547h1v3h-1zM661 550h1v2h-1zM662 551h1v2h-1zM663 551h1v2h-1zM664 550h1v2h-1zM665 548h1v3h-1zM666 546h1v3h-1zM667 546h1v2h-1zM668 546h1v2h-1zM669 546h1v3h-1zM670 549h1v3h-1zM671 551h1v3h-1zM672 552h1v3h-1zM673 551h1v2h-1zM674 550h1v2h-1zM675 549h1v1h-1zM676 548h1v2h-1zM677 548h1v2h-1zM678 548h1v2h-1zM679 550h1v1h-1zM680 550h1v2h-1zM681 552h1v2h-1zM682 553h1v3h-1zM683 555h1v1h-1zM684 553h1v2h-1zM685 552h1v2h-1zM686 552h1v1h-1zM687 550h1v2h-1zM688 550h1v2h-1zM689 550h1v2h-1zM690 550h1v2h-1zM691 550h1v2h-1zM692 551h1v1h-1zM693 551h1v1h-1zM694 552h1v1h-1zM695 551h1v3h-1zM696 552h1v2h-1zM697 553h1v2h-1zM698 555h1v2h-1zM699 557h1v2h-1zM700 557h1v3h-1zM701 554h1v3h-1zM702 552h1v3h-1zM703 552h1v2h-1zM704 552h1v1h-1zM705 552h1v2h-1zM706 552h1v1h-1zM707 552h1v2h-1zM708 552h1v2h-1zM709 552h1v1h-1zM710 552h1v2h-1zM711 552h1v2h-1zM712 553h1v1h-1zM713 553h1v2h-1zM714 554h1v1h-1zM715 554h1v2h-1zM716 554h1v2h-1zM717 554h1v2h-1zM718 554h1v2h-1zM719 556h1v2h-1zM720 557h1v2h-1zM721 559h1v1h-1zM722 558h1v3h-1zM723 557h1v3h-1zM724 556h1v1h-1zM725 555h1v2h-1zM726 554h1v2h-1zM727 553h1v2h-1zM728 554h1v2h-1zM729 556h1v1h-1zM730 556h1v2h-1zM731 557h1v2h-1zM732 558h1v2h-1zM733 557h1v2h-1zM734 557h1v1h-1zM735 556h1v2h-1zM736 556h1v1h-1zM737 555h1v2h-1zM738 555h1v1h-1zM739 554h1v2h-1zM740 555h1v2h-1zM741 555h1v3h-1zM742 557h1v2h-1zM743 557h1v2h-1zM744 558h1v2h-1zM745 558h1v2h-1zM746 558h1v2h-1zM747 558h1v1h-1zM748 558h1v2h-1zM749 558h1v2h-1zM750 558h1v2h-1zM751 559h1v1h-1zM752 560h1v1h-1zM753 561h1v1h-1zM754 562h1v2h-1zM755 563h1v3h-1zM756 561h1v3h-1zM757 560h1v2h-1zM758 559h1v1h-1zM759 559h1v1h-1zM760 559h1v2h-1zM761 559h1v2h-1zM762 559h1v1h-1zM763 559h1v2h-1zM764 559h1v2h-1zM765 559h1v1h-1zM766 559h1v2h-1zM767 559h1v1h-1zM768 559h1v2h-1zM769 560h1v1h-1zM770 560h1v1h-1zM771 560h1v1h-1zM772 560h1v2h-1zM773 560h1v2h-1zM774 560h1v2h-1zM775 560h1v2h-1zM776 560h1v1h-1zM777 560h1v2h-1zM778 560h1v2h-1zM779 560h1v2h-1zM780 561h1v1h-1zM781 561h1v1h-1zM782 561h1v1h-1z"/>
</g>
<g fill="#fff" opacity="0.999" font-family="'Liberation Serif', serif">
<text x="187.5" y="29" font-size="22.8" text-anchor="start" font-weight="normal" textLength="40" lengthAdjust="spacingAndGlyphs" stroke="#fff" stroke-width="0.45">B7V</text>
<text x="246.5" y="29" font-size="22.8" text-anchor="start" font-weight="normal" textLength="79" lengthAdjust="spacingAndGlyphs" stroke="#fff" stroke-width="0.45">HR3982</text>
<text x="345.5" y="29" font-size="22.8" text-anchor="start" font-weight="normal" textLength="82" lengthAdjust="spacingAndGlyphs" stroke="#fff" stroke-width="0.45">Pickles:</text>
<text x="436.5" y="29" font-size="22.8" text-anchor="start" font-weight="normal" textLength="53" lengthAdjust="spacingAndGlyphs" stroke="#fff" stroke-width="0.45">B57V</text>
<text x="558" y="29" font-size="22.8" text-anchor="start" font-weight="normal" textLength="40.5" lengthAdjust="spacingAndGlyphs" stroke="#fff" stroke-width="0.45">Av=</text>
<text x="619" y="29" font-size="22.8" text-anchor="start" font-weight="normal" textLength="44.5" lengthAdjust="spacingAndGlyphs" stroke="#fff" stroke-width="0.45">0.08</text>
<text x="68.7" y="633" font-size="19.6" text-anchor="middle" font-weight="bold" textLength="42.5" lengthAdjust="spacingAndGlyphs" stroke="#fff" stroke-width="0.3">3000</text>
<text x="173.6" y="633" font-size="19.6" text-anchor="middle" font-weight="bold" textLength="42.5" lengthAdjust="spacingAndGlyphs" stroke="#fff" stroke-width="0.3">4000</text>
<text x="278.4" y="633" font-size="19.6" text-anchor="middle" font-weight="bold" textLength="42.5" lengthAdjust="spacingAndGlyphs" stroke="#fff" stroke-width="0.3">5000</text>
<text x="383.3" y="633" font-size="19.6" text-anchor="middle" font-weight="bold" textLength="42.5" lengthAdjust="spacingAndGlyphs" stroke="#fff" stroke-width="0.3">6000</text>
<text x="488.1" y="633" font-size="19.6" text-anchor="middle" font-weight="bold" textLength="42.5" lengthAdjust="spacingAndGlyphs" stroke="#fff" stroke-width="0.3">7000</text>
<text x="593.0" y="633" font-size="19.6" text-anchor="middle" font-weight="bold" textLength="42.5" lengthAdjust="spacingAndGlyphs" stroke="#fff" stroke-width="0.3">8000</text>
<text x="697.8" y="633" font-size="19.6" text-anchor="middle" font-weight="bold" textLength="42.5" lengthAdjust="spacingAndGlyphs" stroke="#fff" stroke-width="0.3">9000</text>
<text x="351.5" y="677" font-size="23.5" text-anchor="start" font-weight="normal" textLength="158" lengthAdjust="spacingAndGlyphs" stroke="#fff" stroke-width="0.6" stroke-linejoin="round">wavelength (Å)</text>
<g transform="translate(24.5,440.5) rotate(-90)"><text x="0" y="0" font-size="23.5" text-anchor="start" font-weight="normal" textLength="12.5" lengthAdjust="spacingAndGlyphs" stroke="#fff" stroke-width="0.6" stroke-linejoin="round">F</text><text x="12.5" y="6.5" font-size="17.5" text-anchor="start" font-weight="normal" textLength="10" lengthAdjust="spacingAndGlyphs" stroke="#fff" stroke-width="0.6" stroke-linejoin="round">λ</text><text x="33" y="0" font-size="23.5" text-anchor="start" font-weight="normal" textLength="178.5" lengthAdjust="spacingAndGlyphs" stroke="#fff" stroke-width="0.6" stroke-linejoin="round">(arbitrary units)</text></g>
<g transform="translate(58,587) rotate(-90)"><text x="0" y="0" font-size="20.5" text-anchor="middle" font-weight="normal" stroke="#fff" stroke-width="0.6" stroke-linejoin="round">0</text></g>
<g transform="translate(58,436.3) rotate(-90)"><text x="0" y="0" font-size="20.5" text-anchor="middle" font-weight="normal" textLength="38" lengthAdjust="spacingAndGlyphs" stroke="#fff" stroke-width="0.6" stroke-linejoin="round">10<tspan font-size="15" dy="-8">−9</tspan></text></g>
<g transform="translate(58,289.5) rotate(-90)"><text x="0" y="0" font-size="20.5" text-anchor="middle" font-weight="normal" textLength="61" lengthAdjust="spacingAndGlyphs" stroke="#fff" stroke-width="0.6" stroke-linejoin="round">2×10<tspan font-size="15" dy="-8">−9</tspan></text></g>
<g transform="translate(58,140.5) rotate(-90)"><text x="0" y="0" font-size="20.5" text-anchor="middle" font-weight="normal" textLength="61" lengthAdjust="spacingAndGlyphs" stroke="#fff" stroke-width="0.6" stroke-linejoin="round">3×10<tspan font-size="15" dy="-8">−9</tspan></text></g>
</g>
</svg>
</body></html>
